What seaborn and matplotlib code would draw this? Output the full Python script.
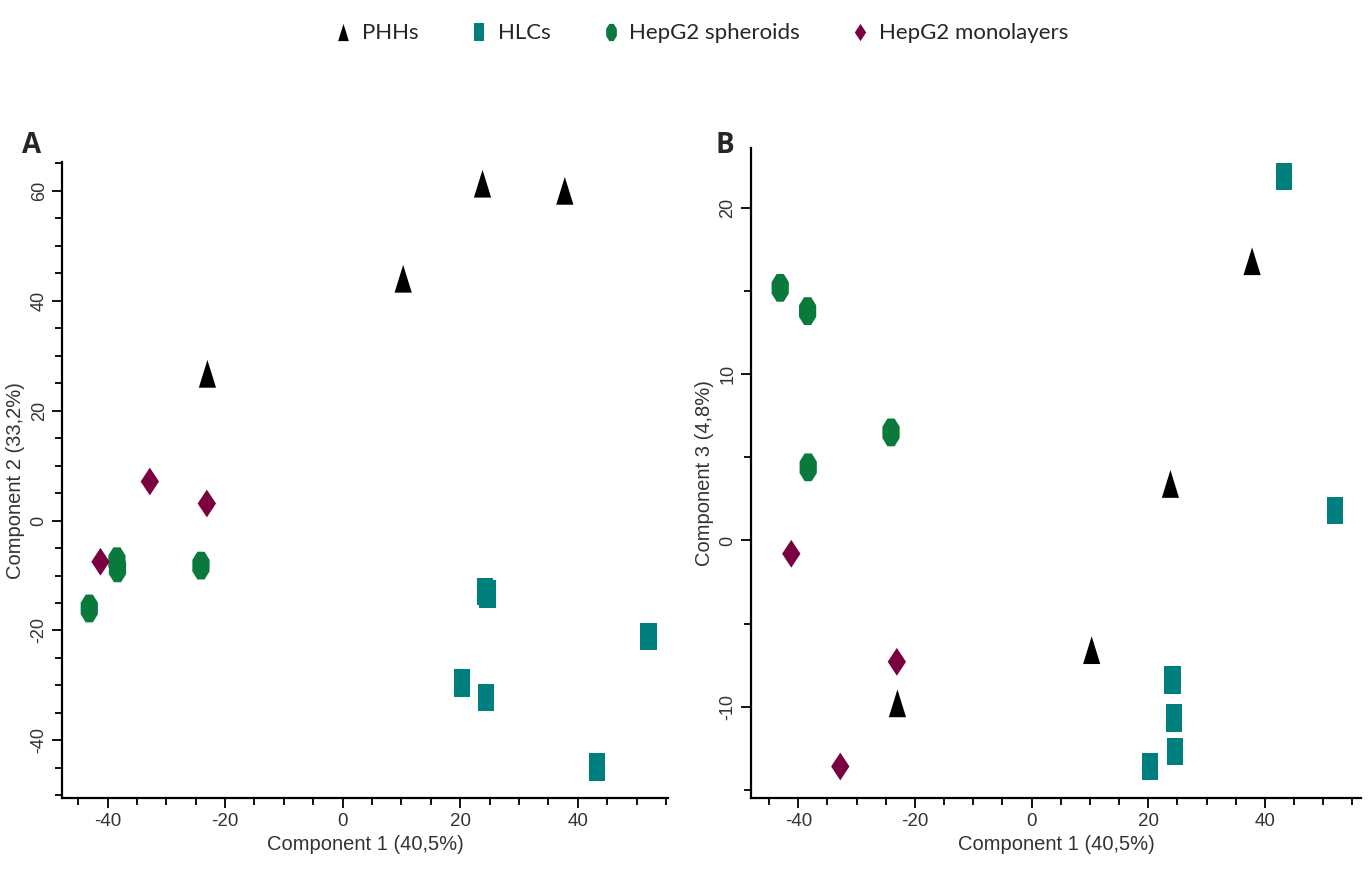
import numpy as np
import pandas as pd
import matplotlib
matplotlib.use("Agg")
import matplotlib.pyplot as plt
from matplotlib.ticker import MultipleLocator
import seaborn as sns

# PCA scores
groups = ["PHHs", "HLCs", "HepG2 spheroids", "HepG2 monolayers"]

phh_pc1 = [-23.0, 10.3, 23.8, 37.8]
phh_pc2 = [26.7, 44.0, 61.3, 60.0]
phh_pc3 = [-9.8, -6.6, 3.4, 16.8]

hlc_pc1 = [20.3, 24.2, 24.4, 24.6, 43.3, 52.0]
hlc_pc2 = [-29.6, -12.9, -32.2, -13.4, -44.9, -21.1]
hlc_pc3 = [-13.6, -8.4, -10.7, -12.7, 21.9, 1.8]

sph_pc1 = [-43.1, -38.4, -38.3, -24.1]
sph_pc2 = [-16.0, -7.4, -8.7, -8.2]
sph_pc3 = [15.2, 13.8, 4.4, 6.5]

mono_pc1 = [-41.2, -32.8, -23.1]
mono_pc2 = [-7.5, 7.1, 3.1]
mono_pc3 = [-0.8, -13.6, -7.3]

colors = ["#000000", "#007f7f", "#0a7a3c", "#7a0040"]

# build long table
rows = []
for g, a, b, c in zip(groups,
                      [phh_pc1, hlc_pc1, sph_pc1, mono_pc1],
                      [phh_pc2, hlc_pc2, sph_pc2, mono_pc2],
                      [phh_pc3, hlc_pc3, sph_pc3, mono_pc3]):
    for x, y, z in zip(a, b, c):
        rows.append({"group": g, "pc1": x, "pc2": y, "pc3": z})
df = pd.DataFrame(rows)

# markers are stretched vertically like in the original export
oct_ang = np.deg2rad(np.arange(22.5, 360, 45))
markers = {
    "PHHs": [(-0.62, -1), (0.62, -1), (0, 1)],
    "HLCs": [(-0.6, -1), (0.6, -1), (0.6, 1), (-0.6, 1)],
    "HepG2 spheroids": list(zip(0.62 * np.cos(oct_ang), np.sin(oct_ang))),
    "HepG2 monolayers": [(0, 1), (0.66, 0), (0, -1), (-0.66, 0)],
}
palette = dict(zip(groups, colors))

sns.set_style("white")
plt.rcParams["font.family"] = ["Liberation Sans", "DejaVu Sans"]
plt.rcParams["axes.unicode_minus"] = False

fig = plt.figure(figsize=(13.68, 8.77), dpi=100)
axA = fig.add_axes([0.0455, 0.090, 0.443, 0.725])
axB = fig.add_axes([0.549, 0.090, 0.446, 0.741])

def draw(ax, ycol, ylabel, ylim, ymajor, xlim):
    sns.scatterplot(data=df, x="pc1", y=ycol, hue="group", style="group",
                    hue_order=groups, style_order=groups, palette=palette,
                    markers=markers, s=400, linewidth=0, ax=ax, legend=True)
    ax.set_xlim(*xlim)
    ax.set_ylim(*ylim)
    ax.xaxis.set_major_locator(MultipleLocator(20))
    ax.xaxis.set_minor_locator(MultipleLocator(5))
    ax.yaxis.set_major_locator(MultipleLocator(ymajor))
    ax.yaxis.set_minor_locator(MultipleLocator(5))
    for side in ["top", "right"]:
        ax.spines[side].set_visible(False)
    for side in ["left", "bottom"]:
        ax.spines[side].set_color("black")
        ax.spines[side].set_linewidth(1.6)
    ax.tick_params(which="major", direction="out", length=7, width=1.3,
                   colors="black", labelcolor="#333333", left=True, bottom=True)
    ax.tick_params(which="minor", direction="out", length=5, width=1.3,
                   colors="black", left=True, bottom=True)
    ax.tick_params(axis="y", labelsize=13)
    ax.tick_params(axis="x", labelsize=13.5)
    for lab in ax.get_yticklabels():
        lab.set_rotation(90)
        lab.set_va("center")
    ax.set_xlabel("Component 1 (40,5%)", fontsize=14.5, color="#333333")
    ax.set_ylabel(ylabel, fontsize=14.5, color="#333333")
    ax.grid(False)

draw(axA, "pc2", "Component 2 (33,2%)", (-50.5, 65.2), 20, (-47.7, 55.4))
draw(axB, "pc3", "Component 3 (4,8%)", (-15.5, 23.6), 10, (-48.1, 56.5))

handles, labels = axA.get_legend_handles_labels()
axA.get_legend().remove()
axB.get_legend().remove()
fig.legend(handles, labels, loc="center", ncol=4, frameon=False,
           bbox_to_anchor=(0.512, 0.962), markerscale=0.62,
           handlelength=1.0, handletextpad=0.35, columnspacing=2.2,
           prop={"family": "Lato", "size": 16})

fig.text(0.016, 0.826, "A", fontsize=20, fontweight="bold", family="Open Sans")
fig.text(0.523, 0.826, "B", fontsize=20, fontweight="bold", family="Open Sans")

fig.savefig("out.png", dpi=100)
